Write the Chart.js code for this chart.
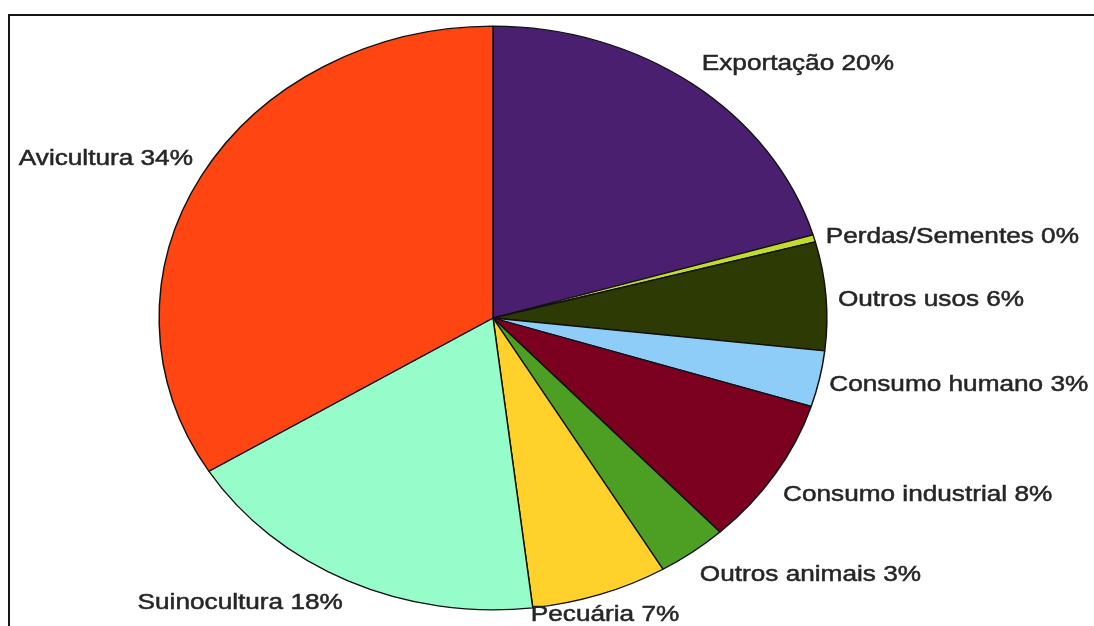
<!DOCTYPE html>
<html lang="pt">
<head>
  <meta charset="UTF-8" />
  <title>Destino do milho</title>
  <script src="https://cdn.jsdelivr.net/npm/chart.js"></script>
  <style>
    html, body { margin: 0; padding: 0; background: #fff; overflow: hidden; }
    .wrap { position: relative; width: 1094px; height: 626px; }
    .frame {
      position: absolute; left: 8px; top: 14px; right: 0; bottom: -10px;
      border-top: 2px solid #151515; border-left: 2px solid #151515;
      pointer-events: none;
    }
    canvas { position: absolute; left: 0; top: 0; }
  </style>
</head>
<body>
  <div class="wrap">
    <canvas id="pieChart" width="1094" height="626"></canvas>
    <div class="frame"></div>
  </div>

  <script>
    // slices, clockwise from 12 o'clock
    const categories = [
      "Exportação", "Perdas/Sementes", "Outros usos", "Consumo humano",
      "Consumo industrial", "Outros animais", "Pecuária", "Suinocultura", "Avicultura"
    ];
    const shares = [20.4, 0.4, 6.0, 3.1, 8.2, 3.4, 6.6, 18.1, 33.8];
    const sliceColors = [
      "#4b1f6f", "#c2dc2c", "#2d3a03", "#8ecdf8",
      "#7c0020", "#4c9f23", "#ffd12a", "#96fcc9", "#ff4612"
    ];

    // pie is drawn as an ellipse: x stretched about its center
    const ELLIPSE_X = 1.144;
    const TEXT_STRETCH = 1.19;
    const LABEL_GAP = 12;
    // fine shifts for each label [dx, dy]
    const labelNudge = [[2, -11], [0, 2], [0, 5], [-2, 3], [-2, 14], [0, 13], [1, 9], [0, 11], [2, -11]];

    const total = shares.reduce((a, b) => a + b, 0);
    const labelText = categories.map((c, i) => c + " " + Math.round(shares[i] / total * 100) + "%");

    const ellipsePlugin = {
      id: "ellipse",
      beforeDatasetsDraw(chart) {
        const arc = chart.getDatasetMeta(0).data[0];
        const ctx = chart.ctx;
        ctx.save();
        ctx.translate(arc.x, arc.y);
        ctx.scale(ELLIPSE_X, 1);
        ctx.translate(-arc.x, -arc.y);
      },
      afterDatasetsDraw(chart) {
        chart.ctx.restore();
      }
    };

    const labelPlugin = {
      id: "sliceLabels",
      afterDraw(chart) {
        const ctx = chart.ctx;
        const arcs = chart.getDatasetMeta(0).data;
        ctx.save();
        ctx.font = '22px "Liberation Sans", Arial, sans-serif';
        ctx.fillStyle = "#262626";
        ctx.strokeStyle = "#262626";
        ctx.lineWidth = 0.5;
        ctx.textBaseline = "middle";
        arcs.forEach((arc, i) => {
          const mid = (arc.startAngle + arc.endAngle) / 2;
          const ca = Math.cos(mid), sa = Math.sin(mid);
          let x = arc.x + (arc.outerRadius * ELLIPSE_X + LABEL_GAP) * ca + labelNudge[i][0];
          const y = arc.y + (arc.outerRadius + LABEL_GAP) * sa + labelNudge[i][1];
          const w = ctx.measureText(labelText[i]).width * TEXT_STRETCH;
          if (ca < -0.3) x -= w;
          else if (ca <= 0.45) x -= w / 2;
          ctx.save();
          ctx.translate(x, y);
          ctx.scale(TEXT_STRETCH, 1);
          ctx.textAlign = "left";
          ctx.fillText(labelText[i], 0, 0);
          ctx.strokeText(labelText[i], 0, 0);
          ctx.restore();
        });
        ctx.restore();
      }
    };

    new Chart(document.getElementById("pieChart"), {
      type: "pie",
      data: {
        labels: categories,
        datasets: [{
          data: shares,
          backgroundColor: sliceColors,
          borderColor: "#111",
          borderWidth: 1.3,
          clip: false
        }]
      },
      options: {
        responsive: false,
        animation: false,
        events: [],
        layout: { padding: { left: 193, right: 301, top: 25.5, bottom: 15.5 } },
        plugins: {
          legend: { display: false },
          tooltip: { enabled: false }
        }
      },
      plugins: [ellipsePlugin, labelPlugin]
    });
  </script>
</body>
</html>
